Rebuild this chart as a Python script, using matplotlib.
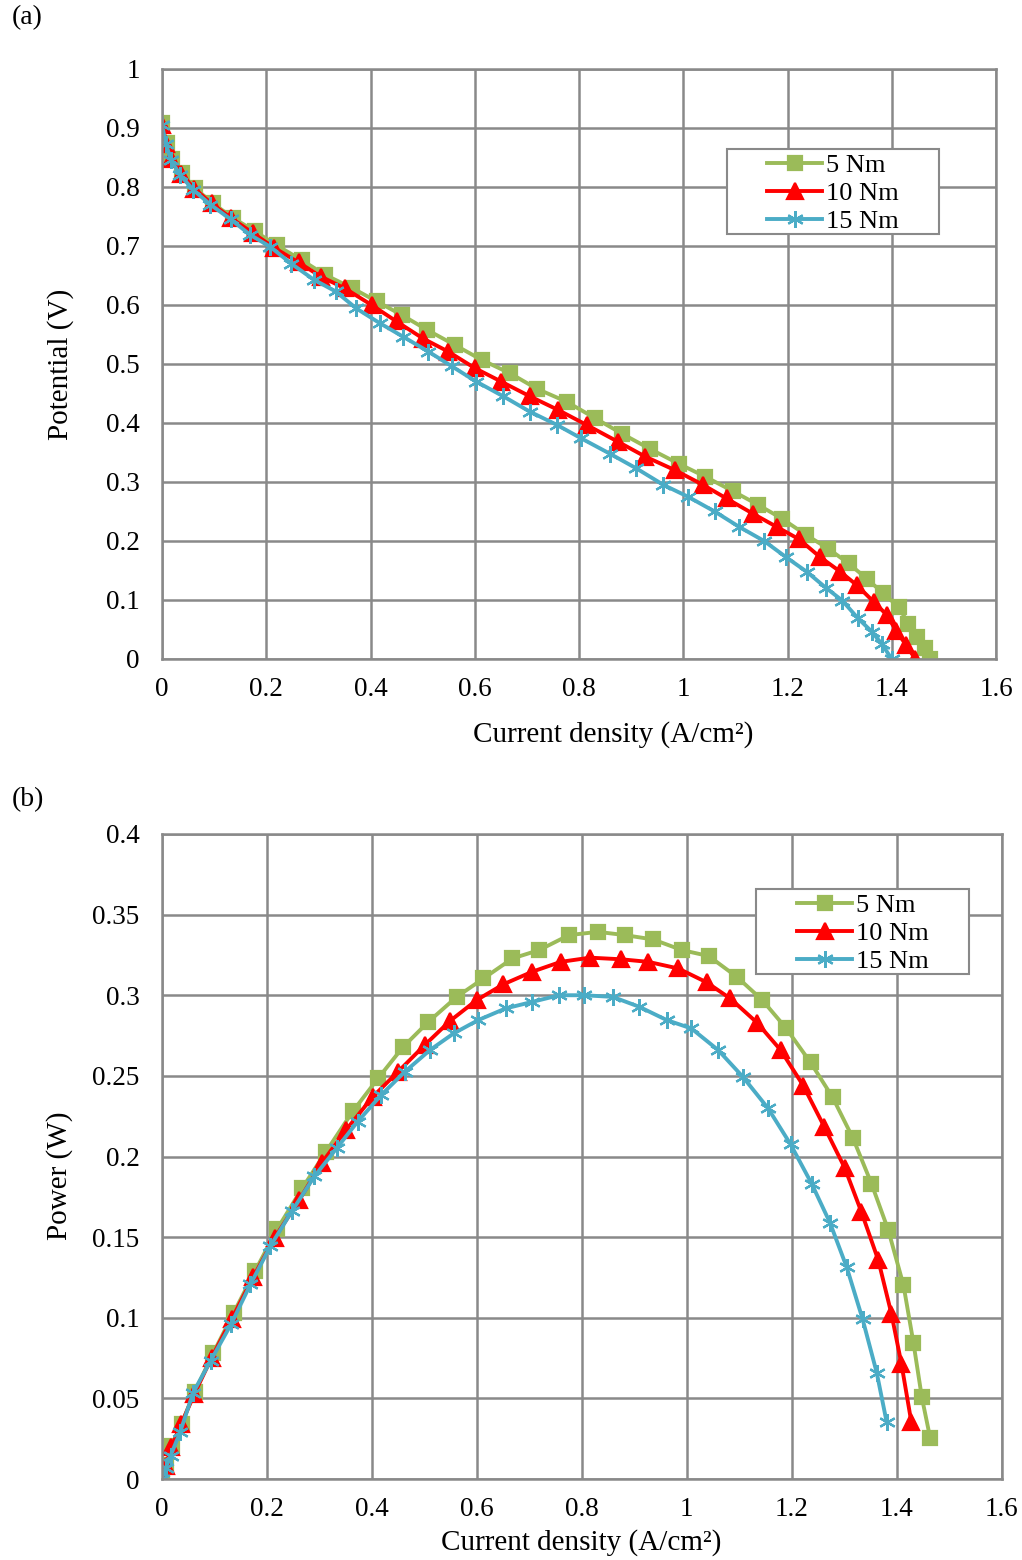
import numpy as np
import matplotlib
matplotlib.use("Agg")
from matplotlib import pyplot as plt
from matplotlib.ticker import FuncFormatter
from matplotlib.patches import Rectangle

plt.rcParams['font.family'] = ['Liberation Serif', 'DejaVu Serif']

# --- (a) polarisation curves: current density (A/cm2) and potential (V) ---
i_5 = [0.000, 0.009, 0.019, 0.038, 0.063, 0.098, 0.137, 0.178, 0.220, 0.268,
       0.313, 0.364, 0.412, 0.460, 0.508, 0.562, 0.613, 0.668, 0.719, 0.776,
       0.831, 0.882, 0.936, 0.991, 1.042, 1.096, 1.144, 1.189, 1.236, 1.278,
       1.317, 1.352, 1.384, 1.413, 1.432, 1.448, 1.464, 1.473]
v_5 = [0.908, 0.874, 0.848, 0.823, 0.798, 0.772, 0.747, 0.725, 0.701, 0.676,
       0.651, 0.629, 0.606, 0.583, 0.558, 0.532, 0.507, 0.484, 0.458, 0.436,
       0.408, 0.382, 0.356, 0.331, 0.309, 0.284, 0.261, 0.238, 0.210, 0.187,
       0.162, 0.136, 0.111, 0.088, 0.060, 0.037, 0.018, 0.000]

i_10 = [0.000, 0.008, 0.018, 0.037, 0.062, 0.095, 0.133, 0.174, 0.215, 0.262,
        0.305, 0.351, 0.402, 0.450, 0.501, 0.549, 0.600, 0.651, 0.706, 0.760,
        0.816, 0.875, 0.927, 0.984, 1.038, 1.083, 1.134, 1.179, 1.222, 1.262,
        1.301, 1.333, 1.365, 1.390, 1.409, 1.428, 1.445]
v_10 = [0.905, 0.873, 0.847, 0.822, 0.797, 0.772, 0.747, 0.722, 0.697, 0.672,
        0.648, 0.628, 0.600, 0.572, 0.543, 0.521, 0.493, 0.470, 0.445, 0.422,
        0.396, 0.368, 0.343, 0.320, 0.295, 0.272, 0.246, 0.224, 0.203, 0.173,
        0.148, 0.125, 0.097, 0.075, 0.047, 0.023, 0.000]

i_15 = [0.000, 0.008, 0.017, 0.035, 0.060, 0.093, 0.132, 0.169, 0.207, 0.248,
        0.291, 0.333, 0.373, 0.418, 0.463, 0.511, 0.556, 0.603, 0.655, 0.706,
        0.757, 0.804, 0.859, 0.910, 0.962, 1.009, 1.060, 1.107, 1.155, 1.198,
        1.238, 1.273, 1.305, 1.335, 1.362, 1.381, 1.400]
v_15 = [0.905, 0.872, 0.846, 0.820, 0.795, 0.770, 0.745, 0.719, 0.699, 0.670,
        0.643, 0.623, 0.594, 0.569, 0.546, 0.521, 0.496, 0.470, 0.445, 0.419,
        0.397, 0.374, 0.348, 0.323, 0.295, 0.275, 0.250, 0.224, 0.200, 0.172,
        0.147, 0.121, 0.099, 0.069, 0.046, 0.025, 0.000]

# --- (b) power (W), same current points without the last (0 V) one ---
p_5 = [0.000, 0.009, 0.0206, 0.0344, 0.0542, 0.078, 0.103, 0.129, 0.155, 0.1805,
       0.203, 0.228, 0.2484, 0.268, 0.2835, 0.299, 0.3104, 0.3228, 0.328, 0.3373,
       0.3393, 0.3373, 0.3346, 0.328, 0.3243, 0.3113, 0.297, 0.2797, 0.2583, 0.2367,
       0.2112, 0.1832, 0.1544, 0.1202, 0.0844, 0.0506, 0.0252]
p_10 = [0.000, 0.008, 0.0196, 0.034, 0.0526, 0.0752, 0.099, 0.125, 0.1495, 0.173,
        0.196, 0.2164, 0.237, 0.2525, 0.2691, 0.284, 0.297, 0.3068, 0.3146, 0.3207,
        0.3233, 0.3223, 0.3207, 0.3166, 0.308, 0.298, 0.283, 0.266, 0.244, 0.2185,
        0.193, 0.1655, 0.1357, 0.1025, 0.0716, 0.0352]
p_15 = [0.000, 0.007, 0.0145, 0.029, 0.0536, 0.0732, 0.0959, 0.1207, 0.1444, 0.1661,
        0.1877, 0.205, 0.2215, 0.2381, 0.2525, 0.266, 0.2763, 0.2846, 0.2918, 0.2959,
        0.300, 0.300, 0.299, 0.2928, 0.2846, 0.2794, 0.266, 0.2494, 0.2299, 0.2075,
        0.1832, 0.1589, 0.1312, 0.0993, 0.066, 0.0352]

labels = ['5 Nm', '10 Nm', '15 Nm']
colors = ['#9BBB59', '#FF0000', '#4BACC6']
markers = ['s', '^', (6, 2, 0)]

grid_c = '#898989'
W, H = 1022, 1560

fig = plt.figure(figsize=(W / 100, H / 100), dpi=100)
ax1 = fig.add_axes([0.1585, 0.5776, 0.8161, 0.3782])
ax2 = fig.add_axes([0.1582, 0.0519, 0.8219, 0.4135])


def style(ax):
    ax.grid(True, color=grid_c, linewidth=1.8)
    ax.set_axisbelow(True)
    for s in ax.spines.values():
        s.set_color(grid_c)
        s.set_linewidth(1.8)
    ax.tick_params(length=0, labelsize=19.5)
    ax.tick_params(axis='x', pad=13)
    ax.tick_params(axis='y', pad=16)
    ax.xaxis.set_major_formatter(FuncFormatter(lambda v, p: '%g' % round(v, 3)))
    ax.yaxis.set_major_formatter(FuncFormatter(lambda v, p: '%g' % round(v, 3)))


def draw(ax, xs, ys):
    for x, y, lab, c, m in zip(xs, ys, labels, colors, markers):
        ms = 12 if m != 's' else 10
        ax.plot(x, y, color=c, linewidth=2.8, marker=m, markersize=ms,
                markeredgecolor=c, markerfacecolor=c, markeredgewidth=1.6,
                label=lab)


def legend_box(ax, left, top, right, bottom, hx):
    # frame drawn by hand (Excel-like wide padding), legend itself frameless
    ax.add_patch(Rectangle((left / W, 1 - bottom / H), (right - left) / W,
                           (bottom - top) / H, transform=fig.transFigure,
                           facecolor='white', edgecolor=grid_c, linewidth=1.5,
                           zorder=5, clip_on=False))
    leg = ax.legend(loc='upper left', bbox_to_anchor=(hx / W, 1 - (top + 5) / H),
                    bbox_transform=fig.transFigure, fontsize=19, frameon=False,
                    numpoints=1, handlelength=2.1, handletextpad=0.15,
                    borderpad=0, labelspacing=0.16, borderaxespad=0)
    leg.set_zorder(6)


# (a)
draw(ax1, [i_5, i_10, i_15], [v_5, v_10, v_15])
style(ax1)
ax1.set_xlim(0, 1.6)
ax1.set_ylim(0, 1)
ax1.set_xticks(np.arange(0, 1.61, 0.2))
ax1.set_yticks(np.arange(0, 1.01, 0.1))
ax1.set_xlabel('Current density (A/cm²)', fontsize=21)
ax1.xaxis.set_label_coords(0.541, -0.105)
ax1.set_ylabel('Potential (V)', fontsize=21)
ax1.yaxis.set_label_coords(-0.106, 0.5)
legend_box(ax1, 727, 149, 939, 234, 767)

# (b)
draw(ax2, [i_5[:-1], i_10[:-1], i_15[:-1]], [p_5, p_10, p_15])
style(ax2)
ax2.set_xlim(0, 1.6)
ax2.set_ylim(0, 0.4)
ax2.set_xticks(np.arange(0, 1.61, 0.2))
ax2.set_yticks(np.arange(0, 0.401, 0.05))
ax2.set_xlabel('Current density (A/cm²)', fontsize=21)
ax2.xaxis.set_label_coords(0.5, -0.078)
ax2.set_ylabel('Power (W)', fontsize=21)
ax2.yaxis.set_label_coords(-0.105, 0.47)
legend_box(ax2, 756, 889, 969, 974, 797)

fig.text(12 / W, 1 - 18 / H, '(a)', fontsize=20, va='center', ha='left')
fig.text(12 / W, 1 - 800 / H, '(b)', fontsize=20, va='center', ha='left')

fig.savefig('out.png', dpi=100)
